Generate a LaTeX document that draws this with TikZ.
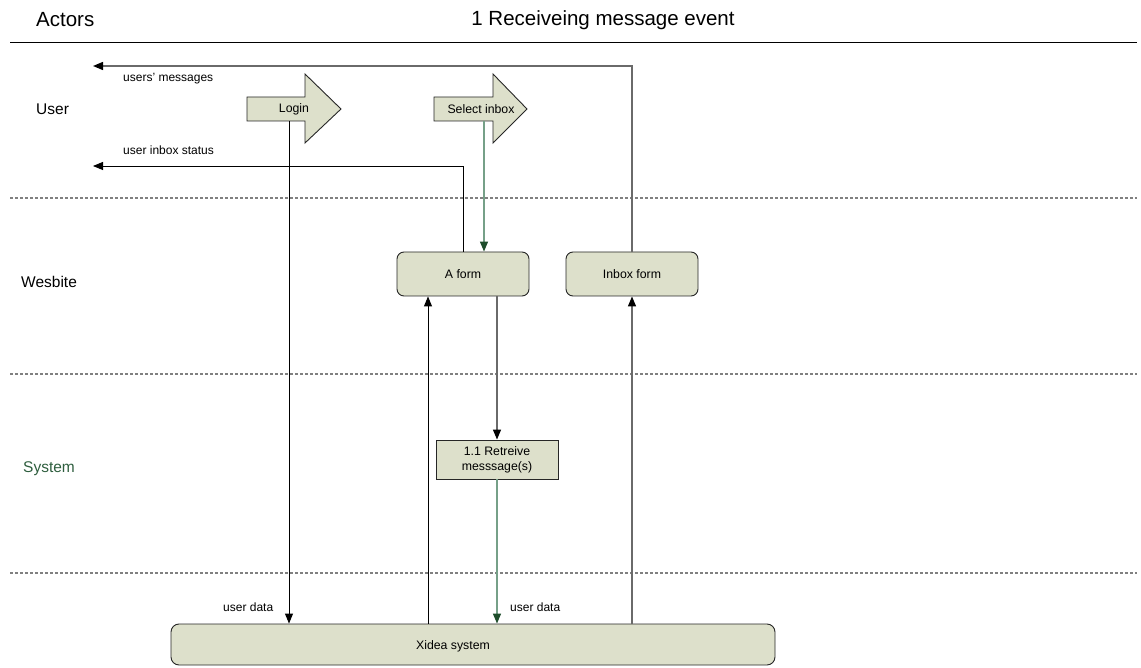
\documentclass[tikz,border=0pt]{standalone}
\usepackage{fontspec}
\setmainfont{Liberation Sans}
\usetikzlibrary{arrows.meta}
\definecolor{boxfill}{HTML}{DDE0CB}
\definecolor{greenline}{HTML}{76A088}
\definecolor{darkgreen}{HTML}{1E4D2B}
\definecolor{systemgreen}{HTML}{2E5E3E}
\definecolor{lanegray}{HTML}{808080}
\definecolor{linegray}{HTML}{6A6A6A}
\begin{document}
\begin{tikzpicture}[x=1pt,y=-1pt,
  headfont/.style={font=\fontsize{20.5}{24}\selectfont},
  lanefont/.style={font=\fontsize{15.5}{18}\selectfont, anchor=west, inner sep=0},
  boxtext/.style={font=\fontsize{12.3}{15}\selectfont, align=center},
  lbl/.style={font=\fontsize{12}{14}\selectfont, anchor=west, inner sep=0},
  boxline/.style={draw=black!85, fill=boxfill, line width=0.9pt},
  form/.style={boxtext, boxline, rounded corners=7pt, inner sep=0, minimum width=132pt, minimum height=44pt},
  lanesep/.style={lanegray, line width=1.2pt, dash pattern=on 3pt off 2pt},
  blk/.style={-{Triangle[length=10pt,width=8pt]}, black, line width=0.9pt},
  gry/.style={-{Triangle[length=10pt,width=8pt,color=black]}, linegray, line width=1.3pt},
  grn/.style={-{Triangle[length=10pt,width=8pt,color=darkgreen]}, greenline, line width=1.3pt}
]
\useasboundingbox (0,0) rectangle (1141,668);

% header
\node[headfont, anchor=west, inner sep=0] (actors) at (36,20) {Actors};
\node[headfont, inner sep=0] (title) at (603,20) {1 Receiveing message event};
\draw[line width=1pt] (10,43) -- (1137,43);

% lane separators
\draw[lanesep] (10,198) -- (1137,198);
\draw[lanesep] (10,374) -- (1137,374);
\draw[lanesep] (10,573) -- (1137,573);

% lane labels
\node[lanefont] (user) at (36,109) {User};
\node[lanefont] (website) at (21,282) {Wesbite};
\node[lanefont, text=systemgreen] (system) at (23,469) {System};

% arrow-shaped steps
\draw[boxline] (247,97) -- (305,97) -- (305,74) -- (341,109) -- (305,143) -- (305,121) -- (247,121) -- cycle;
\node[boxtext] (login) at (294,109) {Login};
\coordinate (loginbot) at (289,121);

\draw[boxline] (434,97) -- (493,97) -- (493,74) -- (527,109) -- (493,143) -- (493,121) -- (434,121) -- cycle;
\node[boxtext] (select) at (481,109) {Select inbox};
\coordinate (selbot) at (484,121);

% forms and boxes
\node[form] (aform) at (463,274) {A form};
\node[form] (inbox) at (632,274) {Inbox form};
\node[boxtext, boxline, inner sep=0, minimum width=122pt, minimum height=39pt] (retr) at (497,459.5) {1.1 Retreive\\messsage(s)};
\node[form, rounded corners=8pt, minimum width=604pt, minimum height=41pt] (xidea) at (473,644.5) {};
\node[boxtext] (xideatext) at (453,646) {Xidea system};

% outputs to user
\coordinate (umsg) at (93,66);
\coordinate (ustat) at (93,166);
\draw[gry] (inbox.north) -- (inbox.north |- umsg) -- (umsg);
\draw[blk] (aform.north) -- (aform.north |- ustat) -- (ustat);
\node[lbl] (lblmsg) at (123,79) {users’ messages};
\node[lbl] (lblstat) at (123,150) {user inbox status};

% flows
\draw[blk] (loginbot) -- (loginbot |- xidea.north);
\draw[grn] (selbot) -- (selbot |- aform.north);
\draw[gry] (aform.south -| retr.north) -- (retr.north);
\draw[grn] (retr.south) -- (retr.south |- xidea.north);
\coordinate (upx) at (428,0);
\draw[blk] (xidea.north -| upx) -- (aform.south -| upx);
\draw[gry] (xidea.north -| inbox.south) -- (inbox.south);

\node[lbl] (ud1) at (223,607) {user data};
\node[lbl] (ud2) at (510,607) {user data};
\end{tikzpicture}
\end{document}
